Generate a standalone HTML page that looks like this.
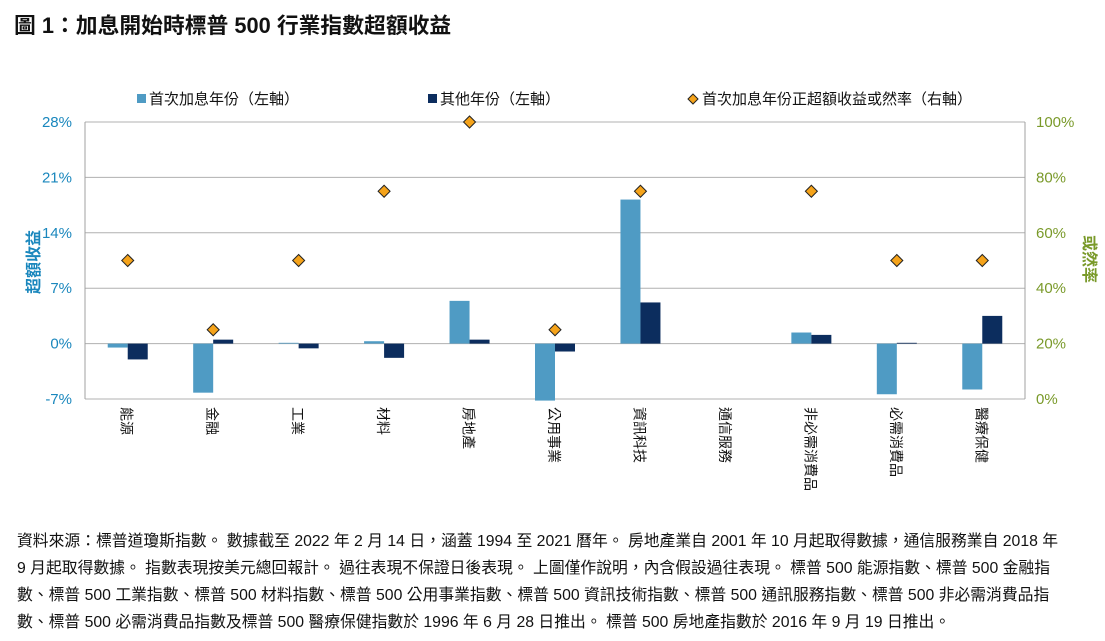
<!DOCTYPE html>
<html><head><meta charset="utf-8"><style>
body{margin:0;background:#fff;width:1105px;height:641px;overflow:hidden;font-family:"Liberation Sans","Noto Sans CJK TC",sans-serif;}
#title{position:absolute;left:14px;top:9px;font-size:21.8px;font-weight:bold;color:#111;white-space:nowrap;}
#note{position:absolute;left:17px;top:528px;width:1090px;font-size:15.8px;line-height:27px;color:#111;white-space:nowrap;}
svg{position:absolute;left:0;top:0;}
</style></head><body>
<div id="title">圖 1：加息開始時標普 500 行業指數超額收益</div>
<svg id="chart" width="1105" height="641"></svg>
<div id="note">資料來源：標普道瓊斯指數。 數據截至 2022 年 2 月 14 日，涵蓋 1994 至 2021 曆年。 房地產業自 2001 年 10 月起取得數據，通信服務業自 2018 年<br>9 月起取得數據。 指數表現按美元總回報計。 過往表現不保證日後表現。 上圖僅作說明，內含假設過往表現。 標普 500 能源指數、標普 500 金融指<br>數、標普 500 工業指數、標普 500 材料指數、標普 500 公用事業指數、標普 500 資訊技術指數、標普 500 通訊服務指數、標普 500 非必需消費品指<br>數、標普 500 必需消費品指數及標普 500 醫療保健指數於 1996 年 6 月 28 日推出。 標普 500 房地產指數於 2016 年 9 月 19 日推出。</div>
<script>
const categories=["能源","金融","工業","材料","房地產","公用事業","資訊科技","通信服務","非必需消費品","必需消費品","醫療保健"];
const firstYear=[-0.5,-6.2,0.1,0.3,5.4,-7.2,18.2,null,1.4,-6.4,-5.8];
const otherYears=[-2.0,0.5,-0.6,-1.8,0.5,-1.0,5.2,null,1.1,0.1,3.5];
const probability=[50,25,50,75,100,25,75,null,75,50,50];
const leftTicks=[-7,0,7,14,21,28];
const rightTicks=[0,20,40,60,80,100];
const NS="http://www.w3.org/2000/svg";
const svg=document.getElementById('chart');
const X0=85,X1=1025,Y0=122,Y1=399;
const yL=v=>Y1-(v+7)/35*(Y1-Y0);
const yR=v=>Y1-v/100*(Y1-Y0);
const band=(X1-X0)/categories.length;
const xc=i=>X0+band*(i+0.5);
function mk(t,a){const e=document.createElementNS(NS,t);for(const k in a)e.setAttribute(k,a[k]);svg.appendChild(e);return e;}
leftTicks.forEach(t=>{
 const g=mk('line',{x1:X0,x2:X1,y1:yL(t),y2:yL(t),stroke:'#b0b0b0','stroke-width':1});
 
 
 const l=mk('text',{x:72,y:yL(t)+5,'text-anchor':'end','font-size':15,fill:'#1a87bd'});l.textContent=t+'%';
 
 
});
rightTicks.forEach(t=>{
 const l=mk('text',{x:1036,y:yR(t)+5,'font-size':15,fill:'#7a9a2a'});l.textContent=t+'%';
 
 
});
mk('line',{x1:X0,x2:X0,y1:Y0,y2:Y1,stroke:'#a0a0a0'});
mk('line',{x1:X1,x2:X1,y1:Y0,y2:Y1,stroke:'#a0a0a0'});
const bw=20;
categories.forEach((c,i)=>{
 const x=xc(i);
 if(firstYear[i]!=null){const v=firstYear[i];const r=mk('rect',{x:x-bw,width:bw,y:Math.min(yL(v),yL(0)),height:Math.abs(yL(v)-yL(0)),fill:'#4f9bc4'});
 
 }
 if(otherYears[i]!=null){const v=otherYears[i];const r=mk('rect',{x:x,width:bw,y:Math.min(yL(v),yL(0)),height:Math.abs(yL(v)-yL(0)),fill:'#0c2d5e'});
 
 }
 if(probability[i]!=null){const y=yR(probability[i]);const d=mk('polygon',{points:`${x},${y-6} ${x+6},${y} ${x},${y+6} ${x-6},${y}`,fill:'#f5a31a',stroke:'#222','stroke-width':1});
 
 }
 const t=mk('text',{x:0,y:0,'font-size':14,fill:'#111',transform:`translate(${x-6},407) rotate(90)`});t.textContent=c;
 
 
});
const la=mk('text',{x:0,y:0,'font-size':16,fill:'#1a87bd','font-weight':'bold',transform:'translate(39,294) rotate(-90)'});la.textContent='超額收益';


const ra=mk('text',{x:0,y:0,'font-size':16,fill:'#7a9a2a','font-weight':'bold',transform:'translate(1084,235) rotate(90)'});ra.textContent='或然率';


const l1=mk('rect',{x:137,y:94,width:9,height:9,fill:'#4f9bc4'});


const lt1=mk('text',{x:149,y:104,'font-size':15,fill:'#111'});lt1.textContent='首次加息年份（左軸）';


const l2=mk('rect',{x:428,y:94,width:9,height:9,fill:'#0c2d5e'});


const lt2=mk('text',{x:440,y:104,'font-size':15,fill:'#111'});lt2.textContent='其他年份（左軸）';


const l3=mk('polygon',{points:'693,94 698,99 693,104 688,99',fill:'#f5a31a',stroke:'#222'});


const lt3=mk('text',{x:702,y:104,'font-size':15,fill:'#111'});lt3.textContent='首次加息年份正超額收益或然率（右軸）';


</script>
</body></html>
